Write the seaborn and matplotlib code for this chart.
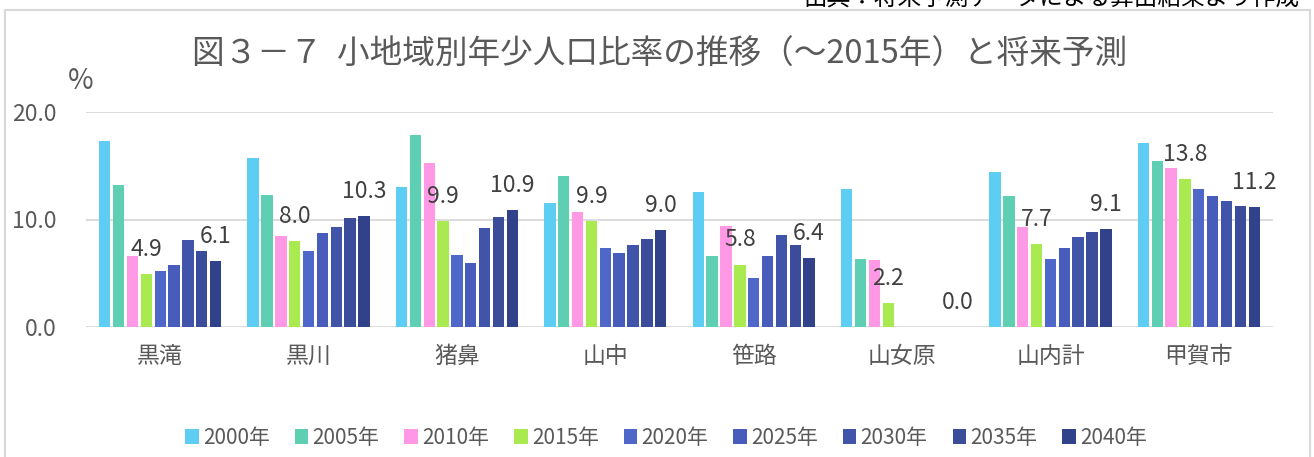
import matplotlib
matplotlib.use("Agg")
import matplotlib.pyplot as plt
import seaborn as sns
import pandas as pd
from matplotlib.patches import Patch, Rectangle

# ---- data ----
areas = ["黒滝", "黒川", "猪鼻", "山中", "笹路", "山女原", "山内計", "甲賀市"]
years = ["2000年", "2005年", "2010年", "2015年", "2020年", "2025年", "2030年", "2035年", "2040年"]
v2000 = [17.3, 15.7, 13.0, 11.5, 12.6, 12.8, 14.4, 17.1]
v2005 = [13.2, 12.3, 17.9, 14.1, 6.6, 6.3, 12.2, 15.5]
v2010 = [6.6, 8.5, 15.3, 10.7, 9.4, 6.2, 9.3, 14.8]
v2015 = [4.9, 8.0, 9.9, 9.9, 5.8, 2.2, 7.7, 13.8]
v2020 = [5.2, 7.1, 6.7, 7.3, 4.5, 0.0, 6.3, 12.8]
v2025 = [5.8, 8.7, 5.9, 6.9, 6.6, 0.0, 7.3, 12.2]
v2030 = [8.1, 9.3, 9.2, 7.6, 8.6, 0.0, 8.4, 11.7]
v2035 = [7.1, 10.1, 10.2, 8.2, 7.6, 0.0, 8.8, 11.3]
v2040 = [6.1, 10.3, 10.9, 9.0, 6.4, 0.0, 9.1, 11.2]
labeled_years = ["2015年", "2040年"]
yticks = [0, 10, 20]
ytick_labels = ["0.0", "10.0", "20.0"]

colors = ["#5DCDF3", "#5ECFB2", "#FF99E5", "#A9EA50", "#4F67C8",
          "#485DBB", "#4055AA", "#3A4C9A", "#31428A"]

series = [v2000, v2005, v2010, v2015, v2020, v2025, v2030, v2035, v2040]
rows = []
for y, vals in zip(years, series):
    for a, v in zip(areas, vals):
        rows.append({"area": a, "year": y, "value": v})
df = pd.DataFrame(rows)

sns.set_theme(style="white")
plt.rcParams["font.family"] = ["Noto Sans CJK JP", "DejaVu Sans"]

W, H = 1314, 457
fig = plt.figure(figsize=(W / 100, H / 100), dpi=100)
ax = fig.add_axes([86 / W, 1 - 326.7 / H, (1273 - 86) / W, (326.7 - 112.3) / H])

sns.barplot(data=df, x="area", y="value", hue="year", order=areas, hue_order=years,
            palette=colors, width=0.84, gap=0.18, ax=ax, legend=False,
            saturation=1, edgecolor="none")

ax.set_ylim(0, 20)
ax.set_yticks(yticks)
ax.set_yticklabels(ytick_labels)
ax.set_xlim(-0.5, len(areas) - 0.5)
ax.grid(axis="y", color="#d9d9d9", linewidth=1.3)
ax.set_axisbelow(True)
for s in ax.spines.values():
    s.set_visible(False)
ax.tick_params(axis="both", length=0, colors="#595959")
ax.tick_params(axis="y", labelsize=16.5, pad=21)
ax.tick_params(axis="x", labelsize=16.5, pad=13)
ax.set_xlabel("")
ax.set_ylabel("")

# data labels
for yr in labeled_years:
    idx = years.index(yr)
    cont = ax.containers[idx]
    for bar, v in zip(cont, series[idx]):
        ax.annotate(f"{v:.1f}", (bar.get_x() + bar.get_width() / 2, bar.get_height()),
                    xytext=(0, 13), textcoords="offset points", ha="center",
                    va="baseline", fontsize=16.5, color="#404040")

# % label
fig.text(81 / W, 1 - 81 / H, "%", ha="center", va="center", fontsize=20, color="#595959")

# title
fig.text(660 / W, 1 - 55 / H, "図３－７  小地域別年少人口比率の推移（～2015年）と将来予測",
         ha="center", va="center", fontsize=23.5, color="#595959")

# top note (cut off at top, as in the reference)
fig.text(1300 / W, 1 + 1 / H, "出典：将来予測データによる算出結果より作成",
         ha="right", va="center", fontsize=17, color="#000000")

# chart border
fig.patches.append(Rectangle((5 / W, -0.1), 1305 / W, 1.1 - 10 / H, transform=fig.transFigure,
                             fill=False, edgecolor="#d9d9d9", linewidth=1.5))

handles = [Patch(facecolor=c, edgecolor="none", label=y) for c, y in zip(colors, years)]
fig.legend(handles=handles, loc="center", bbox_to_anchor=(666 / W, 1 - 438 / H), ncol=9,
           frameon=False, fontsize=15, handlelength=0.65, handleheight=0.75,
           handletextpad=0.2, columnspacing=1.2, labelcolor="#595959")

fig.savefig("out.png", dpi=100)
